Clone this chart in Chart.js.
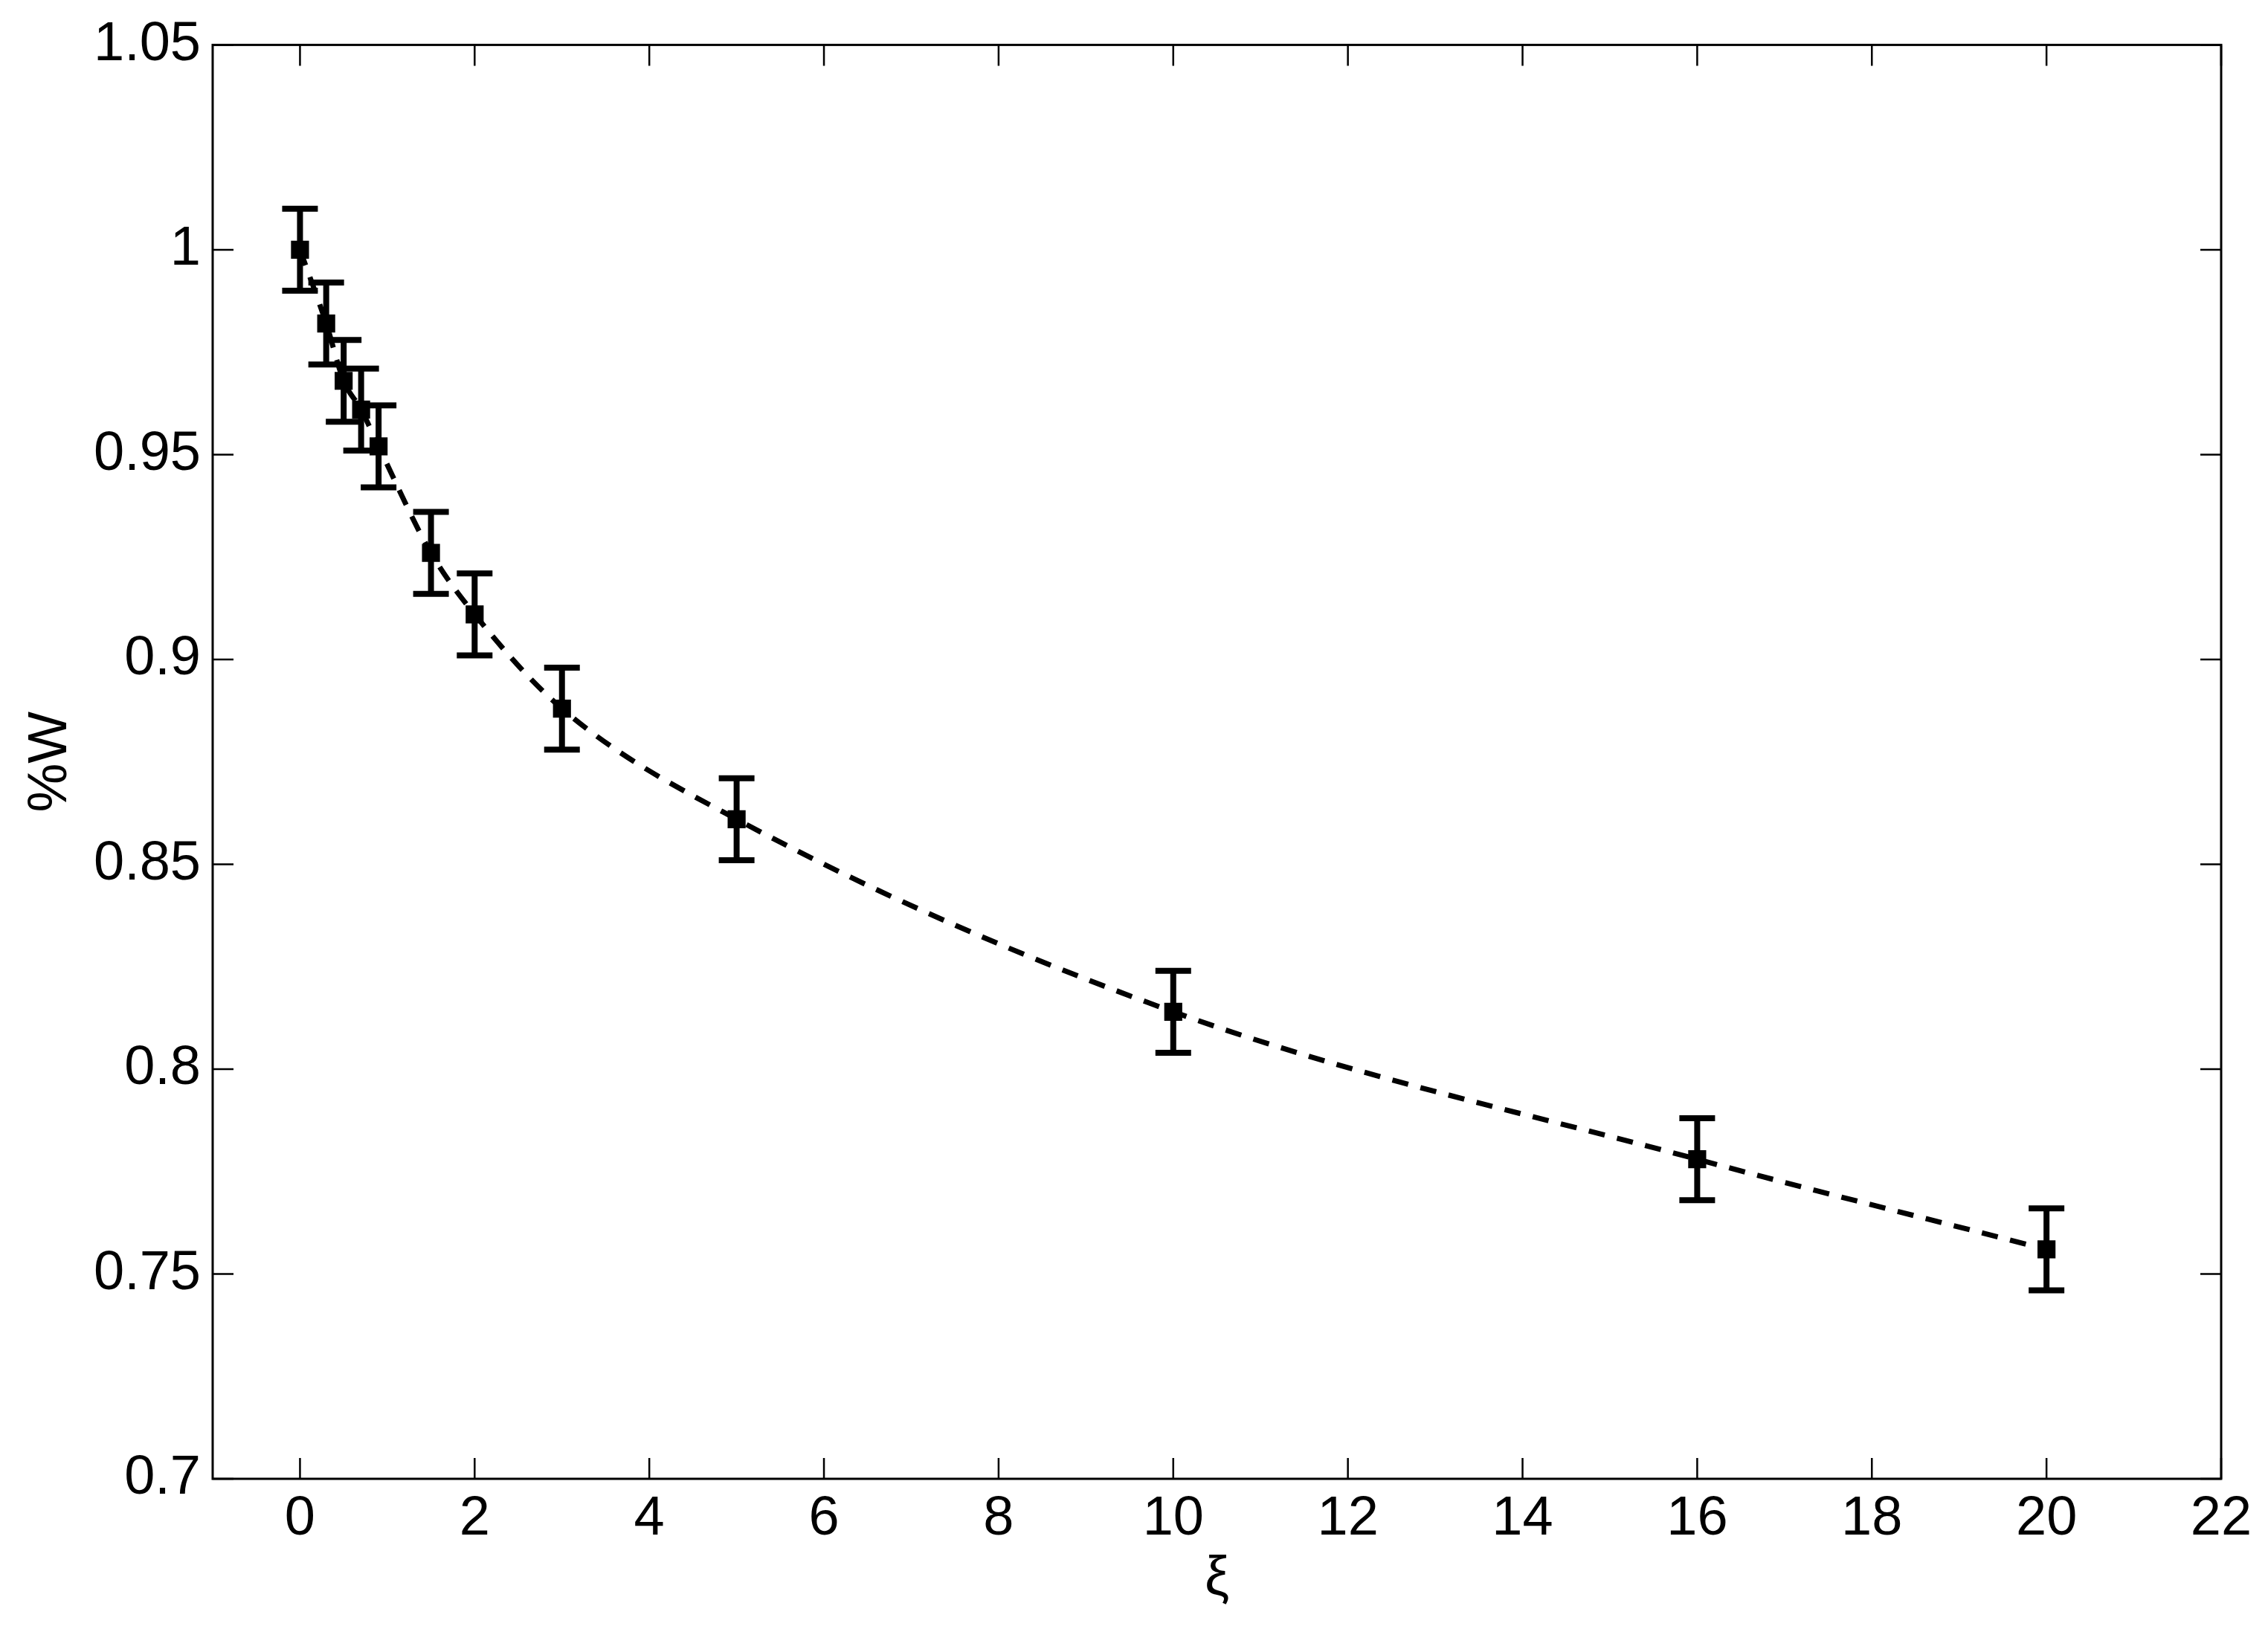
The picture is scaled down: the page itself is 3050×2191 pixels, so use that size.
<!DOCTYPE html>
<html>
<head>
<meta charset="utf-8">
<script src="https://cdn.jsdelivr.net/npm/chart.js@4.4.1/dist/chart.umd.min.js"></script>
<style>
  html, body { margin: 0; padding: 0; background: #ffffff; }
  #wrap { width: 3050px; height: 2191px; position: relative; }
</style>
</head>
<body>
<div id="wrap"><canvas id="c"></canvas></div>
<script>
// ---- data ----
const xiValues = [0, 0.3, 0.5, 0.7, 0.9, 1.5, 2, 3, 5, 10, 16, 20];
const wValues  = [1.000, 0.982, 0.968, 0.961, 0.952, 0.926, 0.911, 0.888, 0.861, 0.814, 0.778, 0.756];
const wErrors  = [0.01, 0.01, 0.01, 0.01, 0.01, 0.01, 0.01, 0.01, 0.01, 0.01, 0.01, 0.01];
const xTickValues = [0, 2, 4, 6, 8, 10, 12, 14, 16, 18, 20, 22];
const yTickValues = [0.7, 0.75, 0.8, 0.85, 0.9, 0.95, 1, 1.05];
const yTickLabels = ['0.7', '0.75', '0.8', '0.85', '0.9', '0.95', '1', '1.05'];
const xTitle = 'ξ';
const yTitle = '%W';

const points = xiValues.map((x, i) => ({ x: x, y: wValues[i] }));
const FONT = "'Liberation Sans', Arial, Helvetica, sans-serif";

const errorBarPlugin = {
  id: 'errorBars',
  afterDatasetsDraw(chart) {
    const ctx = chart.ctx, xs = chart.scales.x, ys = chart.scales.y;
    ctx.save();
    ctx.strokeStyle = '#000';
    ctx.lineWidth = 8;
    ctx.lineCap = 'butt';
    const half = 24;
    xiValues.forEach((x, i) => {
      const px = xs.getPixelForValue(x);
      const pTop = ys.getPixelForValue(wValues[i] + wErrors[i]);
      const pBot = ys.getPixelForValue(wValues[i] - wErrors[i]);
      ctx.beginPath();
      ctx.moveTo(px, pTop); ctx.lineTo(px, pBot);
      ctx.moveTo(px - half, pTop); ctx.lineTo(px + half, pTop);
      ctx.moveTo(px - half, pBot); ctx.lineTo(px + half, pBot);
      ctx.stroke();
    });
    ctx.restore();
  }
};

const boxPlugin = {
  id: 'boxTicks',
  afterDraw(chart) {
    const ctx = chart.ctx, a = chart.chartArea, xs = chart.scales.x, ys = chart.scales.y;
    ctx.save();
    ctx.strokeStyle = '#000';
    ctx.lineWidth = 3;
    ctx.strokeRect(a.left, a.top, a.right - a.left, a.bottom - a.top);
    ctx.lineWidth = 2.5;
    const tl = 28;
    ctx.beginPath();
    xTickValues.forEach(v => {
      const px = xs.getPixelForValue(v);
      ctx.moveTo(px, a.bottom); ctx.lineTo(px, a.bottom - tl);
      ctx.moveTo(px, a.top); ctx.lineTo(px, a.top + tl);
    });
    yTickValues.forEach(v => {
      const py = ys.getPixelForValue(v);
      ctx.moveTo(a.left, py); ctx.lineTo(a.left + tl, py);
      ctx.moveTo(a.right, py); ctx.lineTo(a.right - tl, py);
    });
    ctx.stroke();
    ctx.restore();
  }
};

new Chart(document.getElementById('c'), {
  type: 'scatter',
  data: {
    datasets: [
      {
        label: 'fit',
        data: points,
        showLine: true,
        borderColor: '#000',
        borderWidth: 7,
        borderDash: [22, 17],
        cubicInterpolationMode: 'monotone',
        pointRadius: 0,
        pointHoverRadius: 0,
        fill: false
      },
      {
        label: '%W',
        data: points,
        showLine: false,
        pointStyle: 'rect',
        pointRadius: 15,
        pointBackgroundColor: '#000',
        pointBorderColor: '#000',
        pointBorderWidth: 3
      }
    ]
  },
  options: {
    responsive: true,
    maintainAspectRatio: false,
    devicePixelRatio: 1,
    animation: false,
    events: [],
    layout: { padding: { left: 0, right: 63, top: 50, bottom: 0 } },
    plugins: { legend: { display: false }, tooltip: { enabled: false } },
    scales: {
      x: {
        type: 'linear',
        min: -1,
        max: 22,
        afterBuildTicks(scale) { scale.ticks = xTickValues.map(v => ({ value: v })); },
        afterFit(scale) { scale.height = 202; },
        grid: { display: false, drawTicks: false },
        border: { display: false },
        ticks: {
          color: '#000',
          font: { family: FONT, size: 74 },
          padding: 10,
          maxRotation: 0,
          autoSkip: false,
          callback: v => String(v)
        },
        title: {
          display: true,
          text: xTitle,
          color: '#000',
          font: { family: FONT, size: 74 },
          padding: { top: 0, bottom: 22 }
        }
      },
      y: {
        type: 'linear',
        min: 0.7,
        max: 1.05,
        afterBuildTicks(scale) { scale.ticks = yTickValues.map(v => ({ value: v })); },
        afterFit(scale) { scale.width = 286; },
        grid: { display: false, drawTicks: false },
        border: { display: false },
        ticks: {
          color: '#000',
          font: { family: FONT, size: 74 },
          padding: 16,
          autoSkip: false,
          callback: (v, i) => yTickLabels[yTickValues.findIndex(t => Math.abs(t - v) < 1e-9)]
        },
        title: {
          display: true,
          text: yTitle,
          color: '#000',
          font: { family: FONT, size: 74 },
          padding: { top: 24, bottom: 0 }
        }
      }
    }
  },
  plugins: [errorBarPlugin, boxPlugin]
});
</script>
</body>
</html>
